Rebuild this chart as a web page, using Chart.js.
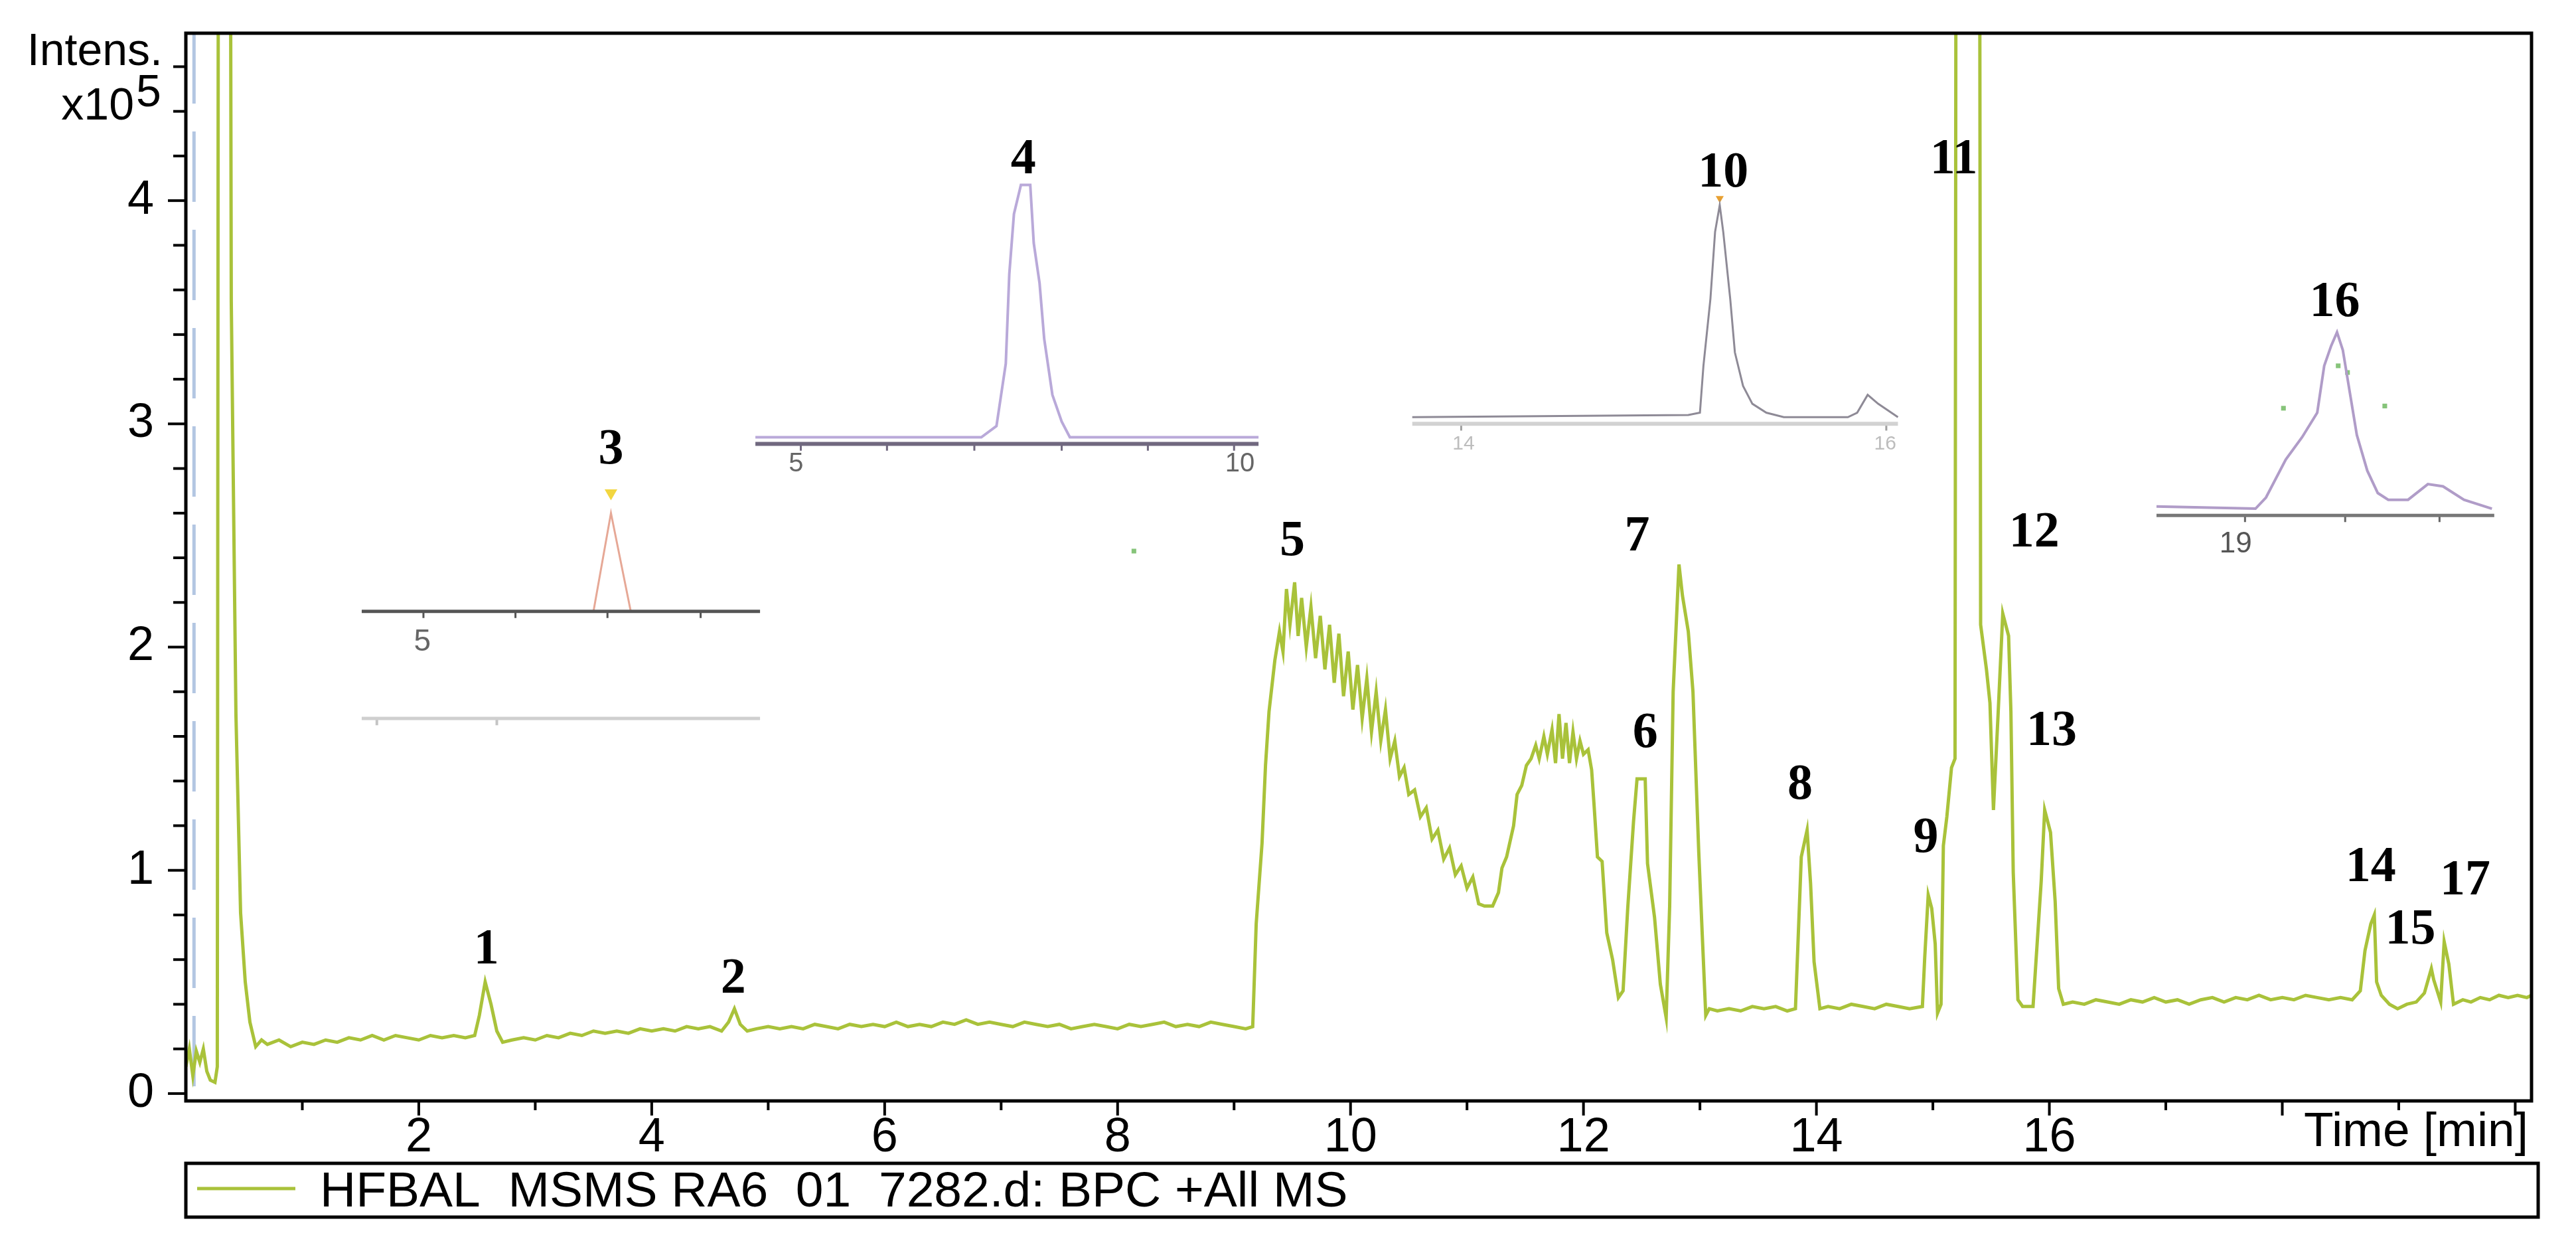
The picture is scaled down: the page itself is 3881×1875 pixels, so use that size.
<!DOCTYPE html>
<html>
<head>
<meta charset="utf-8">
<title>HFBAL BPC chromatogram</title>
<script src="https://cdn.jsdelivr.net/npm/chart.js@4.4.1/dist/chart.umd.min.js"></script>
<style>
  html, body { margin: 0; padding: 0; background: #fff; }
  canvas { display: block; }
</style>
</head>
<body>
<canvas id="bpc" width="3881" height="1875"></canvas>
<script>
// base peak chromatogram, [time (min), intensity (x10^5)]
const mainTrace = [
  [0.00,0.12],[0.03,0.20],[0.06,0.08],[0.09,0.19],[0.12,0.14],[0.15,0.20],[0.18,0.10],[0.21,0.06],[0.25,0.05],[0.27,0.12],
  [0.28,6.0],[0.38,6.0],[0.39,3.55],[0.43,1.70],[0.47,0.81],[0.51,0.50],[0.55,0.32],[0.60,0.21],[0.65,0.24],
  [0.70,0.22],[0.80,0.24],[0.90,0.21],[1.00,0.23],[1.10,0.22],[1.20,0.24],[1.30,0.23],[1.40,0.25],[1.50,0.24],[1.60,0.26],
  [1.70,0.24],[1.80,0.26],[1.90,0.25],[2.00,0.24],[2.10,0.26],[2.20,0.25],[2.30,0.26],[2.40,0.25],[2.48,0.26],
  [2.52,0.35],[2.57,0.50],[2.62,0.40],[2.67,0.28],[2.72,0.23],[2.80,0.24],
  [2.90,0.25],[3.00,0.24],[3.10,0.26],[3.20,0.25],[3.30,0.27],[3.40,0.26],[3.50,0.28],[3.60,0.27],[3.70,0.28],[3.80,0.27],
  [3.90,0.29],[4.00,0.28],[4.10,0.29],[4.20,0.28],[4.30,0.30],[4.40,0.29],[4.50,0.30],[4.60,0.28],
  [4.66,0.32],[4.71,0.38],[4.76,0.31],[4.82,0.28],
  [4.90,0.29],[5.00,0.30],[5.10,0.29],[5.20,0.30],[5.30,0.29],[5.40,0.31],[5.50,0.30],[5.60,0.29],[5.70,0.31],[5.80,0.30],
  [5.90,0.31],[6.00,0.30],[6.10,0.32],[6.20,0.30],[6.30,0.31],[6.40,0.30],[6.50,0.32],[6.60,0.31],[6.70,0.33],[6.80,0.31],
  [6.90,0.32],[7.00,0.31],[7.10,0.30],[7.20,0.32],[7.30,0.31],[7.40,0.30],[7.50,0.31],[7.60,0.29],[7.70,0.30],[7.80,0.31],
  [7.90,0.30],[8.00,0.29],[8.10,0.31],[8.20,0.30],[8.30,0.31],[8.40,0.32],[8.50,0.30],[8.60,0.31],[8.70,0.30],[8.80,0.32],
  [8.90,0.31],[9.00,0.30],[9.10,0.29],[9.16,0.30],
  [9.19,0.76],[9.24,1.12],[9.27,1.47],[9.30,1.71],[9.35,1.94],[9.39,2.07],[9.42,1.98],[9.45,2.26],[9.48,2.10],[9.52,2.29],
  [9.55,2.05],[9.58,2.22],[9.62,2.00],[9.66,2.18],[9.70,1.95],[9.74,2.14],[9.78,1.90],[9.82,2.10],[9.86,1.84],[9.90,2.06],
  [9.94,1.78],[9.98,1.98],[10.02,1.72],[10.06,1.92],[10.10,1.68],[10.14,1.86],[10.18,1.62],[10.22,1.80],[10.26,1.58],
  [10.30,1.72],[10.34,1.50],[10.38,1.58],[10.42,1.42],[10.46,1.46],[10.50,1.34],[10.55,1.36],[10.60,1.24],[10.65,1.28],
  [10.70,1.14],[10.75,1.18],[10.80,1.05],[10.85,1.10],[10.90,0.98],[10.95,1.02],[11.00,0.92],[11.05,0.97],[11.10,0.85],
  [11.15,0.84],[11.22,0.84],[11.27,0.90],
  [11.30,1.01],[11.34,1.06],[11.37,1.13],[11.40,1.20],[11.43,1.34],[11.47,1.38],[11.51,1.47],[11.55,1.50],[11.59,1.56],
  [11.62,1.50],[11.66,1.60],[11.69,1.52],[11.73,1.63],[11.76,1.48],[11.79,1.70],[11.82,1.50],[11.85,1.66],[11.88,1.48],
  [11.91,1.62],[11.94,1.50],[11.97,1.58],[12.00,1.52],[12.04,1.54],[12.07,1.45],[12.09,1.30],[12.12,1.06],[12.16,1.04],
  [12.20,0.72],[12.25,0.60],[12.30,0.43],[12.34,0.46],[12.38,0.83],[12.43,1.22],[12.46,1.41],[12.53,1.41],[12.55,1.03],
  [12.61,0.79],[12.66,0.49],[12.71,0.34],[12.74,0.84],[12.77,1.80],[12.82,2.37],[12.85,2.23],[12.90,2.07],[12.94,1.80],
  [12.99,1.08],[13.02,0.71],[13.05,0.35],[13.08,0.38],
  [13.15,0.37],[13.25,0.38],[13.35,0.37],[13.45,0.39],[13.55,0.38],[13.65,0.39],[13.75,0.37],[13.82,0.38],
  [13.84,0.65],[13.87,1.06],[13.92,1.18],[13.95,0.94],[13.98,0.59],[14.03,0.38],
  [14.10,0.39],[14.20,0.38],[14.30,0.40],[14.40,0.39],[14.50,0.38],[14.60,0.40],[14.70,0.39],[14.80,0.38],[14.91,0.39],
  [14.93,0.61],[14.96,0.89],[14.99,0.83],[15.02,0.67],[15.04,0.36],[15.07,0.40],[15.09,1.11],[15.12,1.24],[15.16,1.46],
  [15.19,1.50],[15.20,6.0],[15.40,6.0],[15.41,2.10],[15.46,1.90],[15.49,1.75],[15.52,1.27],[15.56,1.70],[15.60,2.15],
  [15.65,2.05],[15.67,1.71],[15.69,0.99],[15.73,0.42],[15.77,0.39],[15.86,0.39],[15.88,0.55],[15.93,0.95],[15.96,1.27],
  [16.01,1.17],[16.05,0.86],[16.08,0.47],[16.12,0.40],
  [16.20,0.41],[16.30,0.40],[16.40,0.42],[16.50,0.41],[16.60,0.40],[16.70,0.42],[16.80,0.41],[16.90,0.43],[17.00,0.41],
  [17.10,0.42],[17.20,0.40],[17.30,0.42],[17.40,0.43],[17.50,0.41],[17.60,0.43],[17.70,0.42],[17.80,0.44],[17.90,0.42],
  [18.00,0.43],[18.10,0.42],[18.20,0.44],[18.30,0.43],[18.40,0.42],[18.50,0.43],[18.60,0.42],
  [18.67,0.46],[18.71,0.64],[18.76,0.76],[18.79,0.80],[18.81,0.50],[18.85,0.44],[18.92,0.40],[18.99,0.38],[19.07,0.40],
  [19.15,0.41],[19.22,0.45],[19.28,0.56],[19.30,0.51],[19.36,0.41],[19.39,0.68],[19.43,0.58],[19.47,0.40],[19.55,0.42],
  [19.62,0.41],[19.70,0.43],[19.78,0.42],[19.86,0.44],[19.94,0.43],[20.02,0.44],[20.10,0.43],[20.14,0.44]
];

// dashed injection marker
const injectionMarker = [[0.07, 4.75], [0.07, -0.033]];

// inset of peak 3
const inset3Axis = [[1.51, 2.16], [4.93, 2.16]];
const inset3Ticks = [2.04, 2.83, 3.62, 4.42];
const inset3Trace = [[3.50, 2.16], [3.65, 2.60], [3.82, 2.16]];
const inset3Apex = [[3.65, 2.69]];
const inset3Lower = [[1.51, 1.68], [4.93, 1.68]];
const inset3LowerTicks = [1.64, 2.67];

// inset of peak 4
const inset4Axis = [[4.89, 2.91], [9.21, 2.91]];
const inset4Ticks = [5.28, 6.02, 6.77, 7.52, 8.26, 9.00];
const inset4Trace = [[4.89,2.94],[6.83,2.94],[6.96,2.99],[7.04,3.27],[7.07,3.67],[7.11,3.94],[7.17,4.07],[7.25,4.07],
  [7.28,3.81],[7.33,3.63],[7.37,3.38],[7.44,3.13],[7.52,3.01],[7.59,2.94],[9.21,2.94]];

// inset of peak 10
const inset10Axis = [[10.53, 3.00], [14.70, 3.00]];
const inset10Ticks = [10.95, 14.60];
const inset10Trace = [[10.53,3.03],[12.90,3.04],[13.00,3.05],[13.03,3.26],[13.09,3.56],[13.13,3.86],[13.17,3.98],
  [13.20,3.86],[13.26,3.56],[13.30,3.32],[13.37,3.17],[13.45,3.09],[13.57,3.05],[13.72,3.03],[14.27,3.03],[14.35,3.05],
  [14.44,3.13],[14.53,3.09],[14.70,3.03]];
const inset10Apex = [[13.17, 4.01]];

// inset of peak 16
const inset16Axis = [[16.92, 2.59], [19.82, 2.59]];
const inset16Ticks = [17.68, 18.54, 19.35];
const inset16Trace = [[16.92,2.63],[17.77,2.62],[17.86,2.67],[18.03,2.84],[18.17,2.94],[18.30,3.05],[18.36,3.26],
  [18.42,3.35],[18.47,3.41],[18.52,3.33],[18.58,3.14],[18.64,2.95],[18.73,2.79],[18.82,2.69],[18.91,2.66],[19.08,2.66],
  [19.25,2.73],[19.38,2.72],[19.56,2.66],[19.80,2.62]];
const greenDots = [[18.01,3.07],[18.88,3.08],[18.48,3.26],[18.56,3.23],[8.14,2.43]];

// peak numbers
const peakNames = ['1','2','3','4','5','6','7','8','9','10','11','12','13','14','15','16','17'];
const peakLabelTime = [2.58, 4.70, 3.65, 7.19, 9.50, 12.53, 12.46, 13.86, 14.94, 13.20, 15.18, 15.87, 16.02, 18.76, 19.10, 18.45, 19.57];
const peakLabelLevel = [0.64, 0.51, 2.88, 4.18, 2.47, 1.61, 2.49, 1.38, 1.14, 4.12, 4.18, 2.51, 1.62, 1.01, 0.73, 3.54, 0.95];

// inset axis numbers
const insetLabelText = ['5', '5', '10', '14', '16', '19'];
const insetLabelTime = [2.03, 5.24, 9.05, 10.97, 14.59, 17.60];
const insetLabelLevel = [2.02, 2.82, 2.82, 2.91, 2.91, 2.46];

const timeTickLabels = [2, 4, 6, 8, 10, 12, 14, 16];
const intensityTickLabels = [0, 1, 2, 3, 4];
const seriesName = 'HFBAL  MSMS RA6  01  7282.d: BPC +All MS';

const mainColor = '#a9c23a';
const pts = arr => arr.map(([x, y]) => ({x, y}));
const tickMarks = (ticks, base) => ticks.flatMap(t => [{x: t, y: base}, {x: t, y: base - 0.03}, {x: t, y: null}]);

const lineSet = (data, color, width, extra) => Object.assign({
  data, borderColor: color, backgroundColor: color, borderWidth: width,
  pointRadius: 0, tension: 0, fill: false, spanGaps: false
}, extra || {});

const datasets = [
  lineSet(pts(mainTrace), mainColor, 5, {label: seriesName}),
  lineSet(pts(injectionMarker), '#b3c6e2', 5, {borderDash: [106, 42]}),
  lineSet(pts(inset3Lower), '#cfcfcf', 5),
  lineSet(tickMarks(inset3LowerTicks, 1.68), '#c4c4c4', 4),
  lineSet(pts(inset3Axis), '#555555', 5),
  lineSet(tickMarks(inset3Ticks, 2.16), '#555555', 3),
  lineSet(pts(inset3Trace), '#e6a896', 3),
  lineSet(pts(inset3Apex), '#f2d640', 0, {showLine: false, pointRadius: 11, pointStyle: 'triangle', rotation: 180, pointBorderWidth: 0}),
  lineSet(pts(inset4Axis), '#70687f', 6),
  lineSet(tickMarks(inset4Ticks, 2.91), '#70687f', 3),
  lineSet(pts(inset4Trace), '#b9a9d9', 4),
  lineSet(pts(inset10Axis), '#d2d2d2', 6),
  lineSet(tickMarks(inset10Ticks, 3.00), '#a0a0a0', 3),
  lineSet(pts(inset10Trace), '#8e8a96', 3),
  lineSet(pts(inset10Apex), '#e8a030', 0, {showLine: false, pointRadius: 7, pointStyle: 'triangle', rotation: 180, pointBorderWidth: 0}),
  lineSet(pts(inset16Axis), '#777777', 5),
  lineSet(tickMarks(inset16Ticks, 2.59), '#666666', 3),
  lineSet(pts(inset16Trace), '#b09cc8', 4),
  lineSet(pts(greenDots), '#86c47a', 0, {showLine: false, pointRadius: 5, pointStyle: 'rect', pointBorderWidth: 0})
];

const isMultiple = (v, step) => Math.abs(v / step - Math.round(v / step)) < 1e-6;

const chromatogramDecor = {
  id: 'chromatogramDecor',
  afterDatasetsDraw(chart) {
    const {ctx, scales: {x, y}} = chart;
    ctx.save();
    ctx.textAlign = 'center';
    ctx.textBaseline = 'middle';
    ctx.fillStyle = '#000';
    ctx.font = 'bold 76px "Liberation Serif"';
    peakNames.forEach((name, i) => {
      ctx.fillText(name, x.getPixelForValue(peakLabelTime[i]), y.getPixelForValue(peakLabelLevel[i]));
    });
    const labelStyle = [['#666', 46], ['#666', 40], ['#666', 40], ['#bdbdbd', 30], ['#bdbdbd', 30], ['#555', 44]];
    insetLabelText.forEach((txt, i) => {
      ctx.fillStyle = labelStyle[i][0];
      ctx.font = labelStyle[i][1] + 'px "Liberation Sans"';
      ctx.fillText(txt, x.getPixelForValue(insetLabelTime[i]), y.getPixelForValue(insetLabelLevel[i]));
    });
    ctx.restore();
  },
  afterDraw(chart) {
    const {ctx, chartArea: a, scales: {x, y}} = chart;
    ctx.save();
    ctx.strokeStyle = '#000';
    ctx.lineWidth = 5;
    ctx.strokeRect(a.left, a.top, a.right - a.left, a.bottom - a.top);

    ctx.lineWidth = 4;
    x.ticks.forEach(t => {
      if (t.value <= 0) return;
      const len = isMultiple(t.value, 2) ? 22 : 14;
      const px = x.getPixelForValue(t.value);
      ctx.beginPath(); ctx.moveTo(px, a.bottom); ctx.lineTo(px, a.bottom + len); ctx.stroke();
    });
    y.ticks.forEach(t => {
      const len = isMultiple(t.value, 1) ? 27 : 19;
      const py = y.getPixelForValue(t.value);
      ctx.beginPath(); ctx.moveTo(a.left, py); ctx.lineTo(a.left - len, py); ctx.stroke();
    });

    ctx.fillStyle = '#000';
    ctx.font = '73px "Liberation Sans"';
    ctx.textBaseline = 'middle';
    ctx.textAlign = 'right';
    ctx.fillText('Time [min]', a.right - 5, a.bottom + 48);

    ctx.font = '68px "Liberation Sans"';
    ctx.textBaseline = 'alphabetic';
    ctx.fillText('Intens.', 245, 98);
    ctx.fillText('x10', 202, 180);
    ctx.textAlign = 'left';
    ctx.fillText('5', 205, 160);

    // legend
    const top = a.bottom + 94, h = 81, right = a.right + 10;
    ctx.lineWidth = 5;
    ctx.strokeRect(a.left, top, right - a.left, h);
    ctx.strokeStyle = mainColor;
    ctx.beginPath(); ctx.moveTo(a.left + 17, top + 38); ctx.lineTo(a.left + 165, top + 38); ctx.stroke();
    ctx.font = '75px "Liberation Sans"';
    ctx.textBaseline = 'middle';
    ctx.fillText(chart.data.datasets[0].label, a.left + 202, top + 44);
    ctx.restore();
  }
};

new Chart(document.getElementById('bpc'), {
  type: 'line',
  data: { datasets },
  options: {
    responsive: false,
    devicePixelRatio: 1,
    animation: false,
    events: [],
    layout: { padding: { top: 50, right: 67, left: 0, bottom: 0 } },
    scales: {
      x: {
        type: 'linear', min: 0, max: 20.14,
        grid: { display: false }, border: { display: false },
        ticks: {
          stepSize: 1, includeBounds: false, autoSkip: false, maxRotation: 0, padding: 5,
          color: '#000', font: { family: 'Liberation Sans', size: 72 },
          callback: v => timeTickLabels.includes(v) ? String(v) : ''
        },
        afterFit: s => { s.height = 217; s.paddingLeft = 0; s.paddingRight = 0; }
      },
      y: {
        type: 'linear', min: -0.033, max: 4.75,
        grid: { display: false }, border: { display: false },
        ticks: {
          stepSize: 0.2, includeBounds: false, autoSkip: false, padding: 40,
          color: '#000', font: { family: 'Liberation Sans', size: 72 },
          callback: v => intensityTickLabels.some(t => Math.abs(t - v) < 1e-6) ? String(Math.round(v)) : ''
        },
        afterFit: s => { s.width = 280; s.paddingTop = 0; s.paddingBottom = 0; }
      }
    },
    plugins: { legend: { display: false }, tooltip: { enabled: false } }
  },
  plugins: [chromatogramDecor]
});
</script>
</body>
</html>
